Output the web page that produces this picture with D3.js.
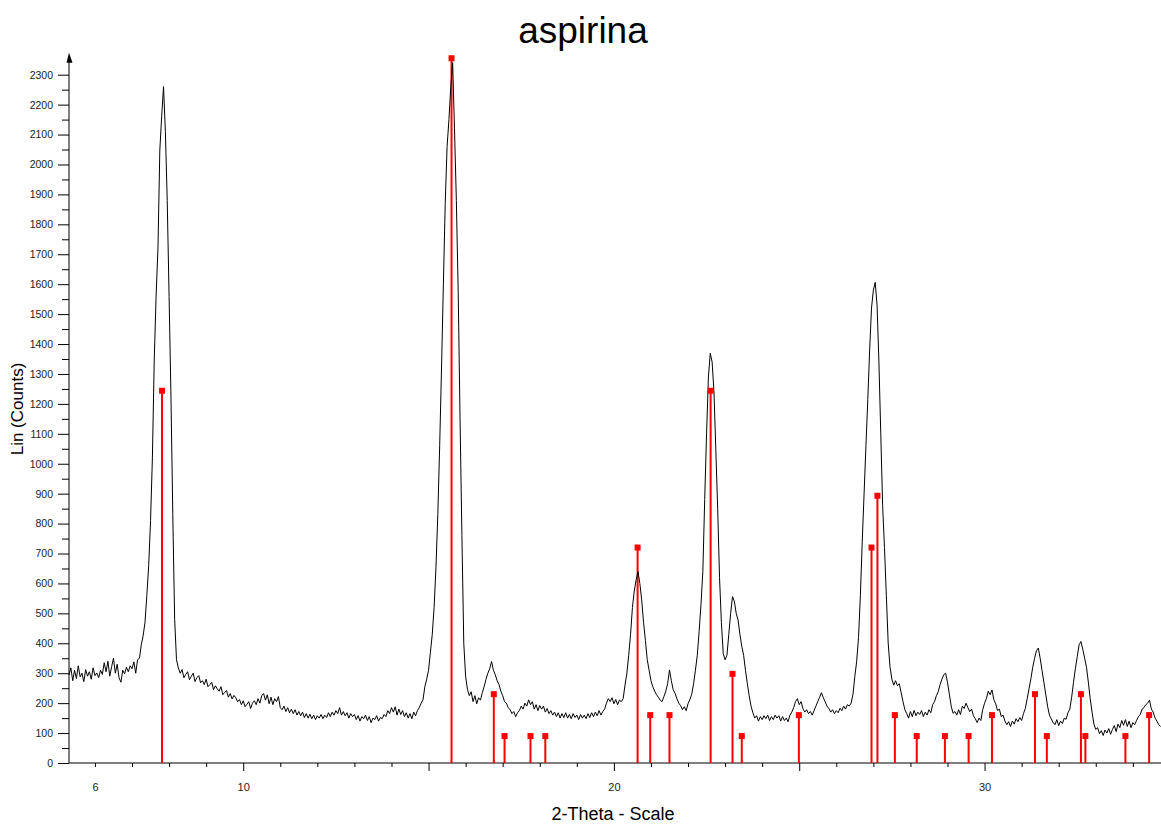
<!DOCTYPE html>
<html>
<head>
<meta charset="utf-8">
<title>aspirina</title>
<script src="https://d3js.org/d3.v7.min.js"></script>
<style>
    body { margin: 0; background: #fff; }
    svg { display: block; font-family: "Liberation Sans", Arial, sans-serif; }
</style>
</head>
<body>
<div id="chart"></div>
<script>
// measured pattern: 2-theta starts at 5.30, one count every 0.05 deg
const angleStart = 5.30;
const angleStep = 0.05;
const counts = [
    294, 318, 275, 310, 282, 325, 288, 300, 272, 312,   // 5.30
    290, 305, 280, 318, 292, 301, 285, 310, 296, 335,   // 5.80
    305, 340, 290, 322, 350, 300, 330, 285, 270, 310,   // 6.30
    298, 320, 305, 325, 315, 338, 300, 345, 350, 395,   // 6.80
    425, 470, 560, 660, 810, 1020, 1350, 1560, 1720, 2048,   // 7.30
    2160, 2260, 2110, 1880, 1559, 1230, 831, 480, 345, 318,  // 7.80
    300, 312, 285, 296, 305, 278, 290, 300, 272, 285,   // 8.30
    292, 268, 275, 262, 280, 255, 262, 270, 245, 258,   // 8.80
    248, 240, 255, 228, 236, 242, 220, 232, 214, 226,   // 9.30
    218, 205, 212, 195, 208, 188, 196, 205, 182, 200,   // 9.80
    208, 195, 215, 200, 225, 232, 210, 228, 198, 220,   // 10.30
    195, 215, 205, 222, 185, 178, 190, 172, 185, 168,   // 10.80
    180, 165, 178, 160, 172, 158, 170, 152, 165, 150,   // 11.30
    163, 148, 160, 145, 158, 150, 162, 148, 160, 152,   // 11.80
    168, 155, 170, 160, 175, 165, 185, 160, 172, 158,   // 12.30
    168, 150, 165, 155, 162, 145, 158, 140, 155, 148,   // 12.80
    160, 142, 155, 135, 150, 145, 158, 140, 152, 148,   // 13.30
    162, 155, 175, 165, 185, 170, 188, 160, 180, 162,   // 13.80
    175, 155, 168, 150, 165, 148, 170, 158, 175, 185,   // 14.30
    200, 211, 255, 280, 310, 370, 430, 520, 654, 830,   // 14.80
    1060, 1320, 1600, 1870, 2060, 2150, 2260, 2340, 2120, 1880,   // 15.30
    1573, 1149, 760, 400, 290, 245, 225, 238, 205, 225,   // 15.80
    198, 218, 210, 235, 255, 280, 300, 315, 339, 310,   // 16.30
    295, 275, 262, 240, 225, 205, 200, 185, 178, 165,   // 16.80
    172, 155, 168, 175, 190, 180, 200, 190, 211, 195,   // 17.30
    205, 180, 195, 175, 192, 180, 190, 170, 182, 165,   // 17.80
    175, 160, 170, 155, 168, 150, 165, 152, 168, 150,   // 18.30
    162, 148, 165, 152, 160, 145, 162, 150, 160, 148,   // 18.80
    165, 152, 168, 155, 170, 158, 175, 160, 172, 180,   // 19.30
    200, 215, 205, 218, 198, 212, 195, 210, 205, 215,   // 19.80
    260, 300, 360, 430, 520, 575, 612, 640, 600, 545,   // 20.30
    470, 410, 345, 310, 275, 255, 240, 228, 220, 210,   // 20.80
    205, 222, 240, 265, 311, 275, 245, 233, 215, 200,   // 21.30
    192, 178, 188, 175, 198, 212, 230, 265, 310, 360,   // 21.80
    440, 530, 640, 880, 1100, 1290, 1369, 1340, 1240, 1047,   // 22.30
    850, 620, 470, 365, 345, 360, 430, 500, 556, 540,   // 22.80
    500, 478, 430, 390, 360, 310, 265, 225, 190, 168,   // 23.30
    150, 158, 140, 155, 145, 158, 148, 160, 142, 155,   // 23.80
    145, 160, 150, 158, 140, 155, 142, 150, 138, 160,   // 24.30
    170, 185, 205, 215, 195, 205, 182, 170, 178, 165,   // 24.80
    172, 160, 175, 190, 205, 220, 235, 218, 205, 190,   // 25.30
    182, 170, 178, 165, 175, 168, 183, 175, 190, 180,   // 25.80
    195, 190, 200, 230, 289, 340, 420, 560, 740, 900,   // 26.30
    1060, 1215, 1380, 1520, 1580, 1606, 1530, 1340, 1100, 860,   // 26.80
    720, 560, 401, 320, 280, 260, 275, 258, 265, 235,   // 27.30
    205, 178, 165, 150, 172, 155, 176, 158, 170, 162,   // 27.80
    175, 155, 170, 160, 178, 168, 195, 205, 225, 238,   // 28.30
    262, 280, 295, 300, 270, 230, 190, 166, 172, 160,   // 28.80
    178, 162, 190, 182, 200, 185, 172, 180, 158, 148,   // 29.30
    135, 150, 142, 178, 200, 215, 240, 228, 244, 212,   // 29.80
    198, 175, 180, 155, 160, 140, 128, 138, 122, 140,   // 30.30
    130, 148, 138, 152, 142, 165, 182, 215, 248, 282,   // 30.80
    320, 350, 375, 384, 350, 310, 270, 230, 190, 160,   // 31.30
    148, 135, 128, 145, 125, 140, 132, 150, 146, 168,   // 31.80
    180, 220, 270, 315, 355, 395, 406, 380, 350, 320,   // 32.30
    270, 215, 170, 130, 112, 118, 98, 108, 92, 110,     // 32.80
    100, 115, 96, 112, 125, 105, 130, 118, 142, 126,    // 33.30
    145, 122, 140, 118, 135, 128, 142, 155, 162, 180,   // 33.80
    185, 195, 200, 210, 180, 170, 150, 140, 128, 122    // 34.30
];

// reference pattern lines (red sticks)
const stickAngles = [7.81, 15.62, 16.76, 17.05, 17.75, 18.15, 20.64, 20.98, 21.50, 22.61,
    23.20, 23.45, 24.99, 26.95, 27.11, 27.58, 28.17, 28.93, 29.57, 30.20,
    31.36, 31.68, 32.60, 32.72, 33.80, 34.44];
const stickCounts = [1244, 2355, 230, 90, 90, 90, 720, 160, 160, 1244,
    298, 90, 160, 720, 893, 160, 90, 90, 90, 160,
    230, 90, 230, 90, 90, 160];

const yLabelTicks = [0, 100, 200, 300, 400, 500, 600, 700, 800, 900, 1000, 1100,
    1200, 1300, 1400, 1500, 1600, 1700, 1800, 1900, 2000, 2100, 2200, 2300];
const yMinorTicks = [50, 150, 250, 350, 450, 550, 650, 750, 850, 950, 1050, 1150,
    1250, 1350, 1450, 1550, 1650, 1750, 1850, 1950, 2050, 2150, 2250];
const xMinorTicks = [6, 7, 8, 9, 11, 12, 13, 14, 16, 17, 18, 19, 21, 22, 23, 24,
    26, 27, 28, 29, 31, 32, 33, 34];
const xMajorTicks = [10, 15, 20, 25, 30];
const xLabelTicks = [6, 10, 20, 30];

var W = 1161, H = 824;
var left = 69, bottom = 763, right = 1161;

var svg = d3.select("#chart").append("svg")
    .attr("width", W)
    .attr("height", H);

var x = d3.scaleLinear().domain([5.30, 34.76]).range([left, right]);
var y = d3.scaleLinear().domain([0, 2300]).range([bottom, 74.7]);

// title + axis titles
svg.append("text")
    .attr("x", 583).attr("y", 43)
    .attr("text-anchor", "middle")
    .style("font-size", "37px")
    .text("aspirina");

svg.append("text")
    .attr("transform", "translate(23,409)rotate(-90)")
    .attr("text-anchor", "middle")
    .style("font-size", "17px")
    .text("Lin (Counts)");

svg.append("text")
    .attr("x", 613).attr("y", 820)
    .attr("text-anchor", "middle")
    .style("font-size", "18px")
    .text("2-Theta - Scale");

// y axis
var gy = svg.append("g").attr("transform", "translate(" + left + ",0)");
gy.append("g")
    .call(d3.axisLeft(y).tickValues(yLabelTicks).tickSize(11).tickPadding(5).tickSizeOuter(0)
        .tickFormat(d3.format("d")));
gy.append("g")
    .call(d3.axisLeft(y).tickValues(yMinorTicks).tickSize(7).tickSizeOuter(0).tickFormat(""));
gy.selectAll(".domain").remove();
gy.selectAll("text").style("font-size", "10.5px").attr("fill", "#222");
gy.append("line")
    .attr("x1", 0).attr("x2", 0)
    .attr("y1", bottom).attr("y2", 58)
    .attr("stroke", "#000");
gy.append("path")
    .attr("d", "M0," + (y(2300) - 22) + "L3.5," + (y(2300) - 12) + "L-2.5," + (y(2300) - 12) + "Z")
    .attr("fill", "#000");

// x axis
var gx = svg.append("g").attr("transform", "translate(0," + bottom + ")");
gx.append("g")
    .call(d3.axisBottom(x).tickValues(xMinorTicks).tickSize(4).tickSizeOuter(0).tickFormat(""));
gx.append("g")
    .call(d3.axisBottom(x).tickValues(xMajorTicks).tickSize(8).tickSizeOuter(0).tickFormat(""));
gx.append("g")
    .call(d3.axisBottom(x).tickValues(xLabelTicks).tickSize(0).tickPadding(20).tickSizeOuter(0)
        .tickFormat(d3.format("d")));
gx.selectAll(".domain").remove();
gx.selectAll("text").style("font-size", "11px").attr("fill", "#222");
gx.append("line")
    .attr("x1", left).attr("x2", right)
    .attr("y1", 0).attr("y2", 0)
    .attr("stroke", "#000");

// red sticks
var sticks = stickAngles.map(function (a, i) { return { a: a, c: stickCounts[i] }; });
svg.selectAll(".stick")
    .data(sticks)
    .enter().append("line")
    .attr("class", "stick")
    .attr("x1", function (d) { return x(d.a); })
    .attr("x2", function (d) { return x(d.a); })
    .attr("y1", y(0))
    .attr("y2", function (d) { return y(d.c); })
    .attr("stroke", "#ff0000")
    .attr("stroke-width", 2);

// measured curve
var line = d3.line()
    .x(function (d, i) { return x(angleStart + i * angleStep); })
    .y(function (d) { return y(d); });
svg.append("path")
    .datum(counts)
    .attr("d", line)
    .attr("fill", "none")
    .attr("stroke", "#000")
    .attr("stroke-width", 1);

// stick markers on top
svg.selectAll(".mark")
    .data(sticks)
    .enter().append("rect")
    .attr("class", "mark")
    .attr("x", function (d) { return x(d.a) - 3; })
    .attr("y", function (d) { return y(d.c) - 3; })
    .attr("width", 6)
    .attr("height", 6)
    .attr("fill", "#ff0000");
</script>
</body>
</html>
